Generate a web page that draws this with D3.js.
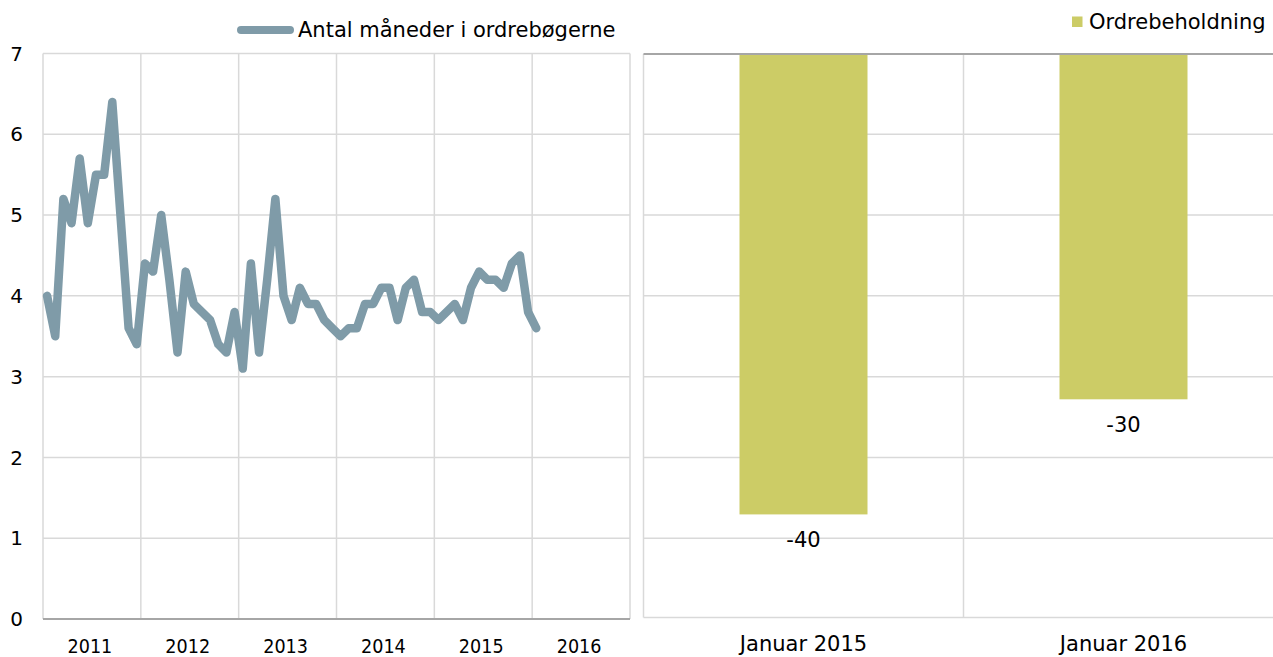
<!DOCTYPE html>
<html>
<head>
<meta charset="utf-8">
<script src="https://cdn.jsdelivr.net/npm/d3@7/dist/d3.min.js"></script>
<style>
  html, body { margin: 0; padding: 0; background: #fff; }
  svg { display: block; font-family: "DejaVu Sans", Verdana, sans-serif; }
</style>
</head>
<body>
<svg id="chart" width="1273" height="657"></svg>
<script>
'use strict';

// Venstre panel: antal måneder i ordrebøgerne, månedlig jan 2011 - jan 2016
var years = ['2011', '2012', '2013', '2014', '2015', '2016'];
var maaneder = [
  4.0, 3.5, 5.2, 4.9, 5.7, 4.9, 5.5, 5.5, 6.4, 5.0, 3.6, 3.4,
  4.4, 4.3, 5.0, 4.2, 3.3, 4.3, 3.9, 3.8, 3.7, 3.4, 3.3, 3.8,
  3.1, 4.4, 3.3, 4.2, 5.2, 4.0, 3.7, 4.1, 3.9, 3.9, 3.7, 3.6,
  3.5, 3.6, 3.6, 3.9, 3.9, 4.1, 4.1, 3.7, 4.1, 4.2, 3.8, 3.8,
  3.7, 3.8, 3.9, 3.7, 4.1, 4.3, 4.2, 4.2, 4.1, 4.4, 4.5, 3.8,
  3.6
];
var yTicks = [0, 1, 2, 3, 4, 5, 6, 7];

// Højre panel: ordrebeholdning
var barCats = ['Januar 2015', 'Januar 2016'];
var barVals = [-40, -30];

var lineColor = '#7f9ba8';
var barColor  = '#cccc66';
var gridColor = '#d9d9d9';
var axisColor = '#a6a6a6';

var svg = d3.select('#chart');

var y = d3.scaleLinear().domain([0, 7]).range([619, 53.5]);
var x = d3.scaleLinear().domain([0, years.length * 12]).range([43, 630]);

// Left panel grid
var left = svg.append('g');
left.selectAll('line.h')
    .data(yTicks.slice(1)).enter().append('line')
    .attr('x1', x(0)).attr('x2', x(72))
    .attr('y1', function(d) { return y(d); })
    .attr('y2', function(d) { return y(d); })
    .style('stroke', gridColor).style('stroke-width', 1.5);

left.selectAll('line.v')
    .data(d3.range(years.length + 1)).enter().append('line')
    .attr('x1', function(d) { return x(d * 12); })
    .attr('x2', function(d) { return x(d * 12); })
    .attr('y1', y(7)).attr('y2', y(0))
    .style('stroke', gridColor).style('stroke-width', 1.5);

left.append('line')
    .attr('x1', x(0)).attr('x2', x(72))
    .attr('y1', y(0)).attr('y2', y(0))
    .style('stroke', axisColor).style('stroke-width', 2);

// y tick labels
left.selectAll('text.yt')
    .data(yTicks).enter().append('text')
    .attr('x', 23)
    .attr('y', function(d) { return y(d); })
    .attr('dy', '0.36em')
    .attr('text-anchor', 'end')
    .style('font-size', '20px')
    .style('fill', '#000')
    .text(function(d) { return d; });

// year labels (centered in each year band, a bit condensed like the original)
left.selectAll('text.yr')
    .data(years).enter().append('text')
    .attr('transform', function(d, i) {
      return 'translate(' + (x(i * 12 + 6) - 2) + ',653) scale(0.88,1)';
    })
    .attr('text-anchor', 'middle')
    .style('font-size', '20px')
    .style('fill', '#000')
    .text(function(d) { return d; });

var line = d3.line()
    .x(function(d, i) { return x(i + 0.5); })
    .y(function(d) { return y(d); });

left.append('path')
    .datum(maaneder)
    .attr('d', line)
    .style('fill', 'none')
    .style('stroke', lineColor)
    .style('stroke-width', 8.5)
    .style('stroke-linejoin', 'round')
    .style('stroke-linecap', 'round');

// legend left
left.append('line')
    .attr('x1', 241).attr('x2', 290)
    .attr('y1', 30).attr('y2', 30)
    .style('stroke', lineColor).style('stroke-width', 8)
    .style('stroke-linecap', 'round');
left.append('text')
    .attr('x', 298).attr('y', 37)
    .style('font-size', '21px')
    .text('Antal måneder i ordrebøgerne');

// Right panel
var yR = d3.scaleLinear().domain([0, -49]).range([54, 618]);
var xR = d3.scaleBand().domain(barCats).range([643.5, 1283.5]);

var right = svg.append('g');
right.selectAll('line.h')
    .data(yTicks.slice(0, 7)).enter().append('line')
    .attr('x1', xR.range()[0]).attr('x2', xR.range()[1])
    .attr('y1', function(d) { return d === 0 ? 617.5 : y(d); })
    .attr('y2', function(d) { return d === 0 ? 617.5 : y(d); })
    .style('stroke', gridColor).style('stroke-width', 1.5);

right.selectAll('line.v')
    .data(barCats).enter().append('line')
    .attr('x1', function(d) { return xR(d); })
    .attr('x2', function(d) { return xR(d); })
    .attr('y1', yR(0)).attr('y2', 617.5)
    .style('stroke', gridColor).style('stroke-width', 1.5);

right.selectAll('rect.bar')
    .data(barVals).enter().append('rect')
    .attr('x', function(d, i) { return xR(barCats[i]) + xR.bandwidth() * 0.3; })
    .attr('width', xR.bandwidth() * 0.4)
    .attr('y', yR(0))
    .attr('height', function(d) { return yR(d) - yR(0); })
    .style('fill', barColor);

right.append('line')
    .attr('x1', xR.range()[0]).attr('x2', xR.range()[1])
    .attr('y1', yR(0)).attr('y2', yR(0))
    .style('stroke', axisColor).style('stroke-width', 2);

right.selectAll('text.val')
    .data(barVals).enter().append('text')
    .attr('x', function(d, i) { return xR(barCats[i]) + xR.bandwidth() / 2; })
    .attr('y', function(d) { return yR(d) + 33; })
    .attr('text-anchor', 'middle')
    .style('font-size', '21px')
    .text(function(d) { return d; });

right.selectAll('text.cat')
    .data(barCats).enter().append('text')
    .attr('x', function(d) { return xR(d) + xR.bandwidth() / 2; })
    .attr('y', 651)
    .attr('text-anchor', 'middle')
    .style('font-size', '21px')
    .text(function(d) { return d; });

// legend right
right.append('rect')
    .attr('x', 1072).attr('y', 16.5)
    .attr('width', 10.5).attr('height', 10.5)
    .style('fill', barColor);
right.append('text')
    .attr('x', 1089).attr('y', 28.5)
    .style('font-size', '21px')
    .text('Ordrebeholdning');
</script>
</body>
</html>
